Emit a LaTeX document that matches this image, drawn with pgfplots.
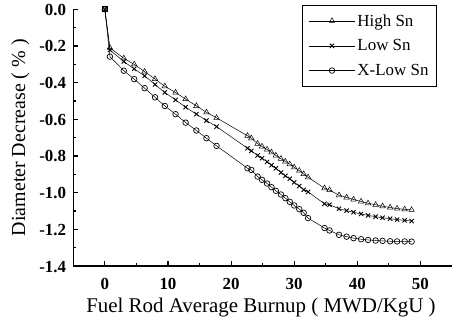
\documentclass[border=0pt]{standalone}
\usepackage{pgfplots}
\pgfplotsset{compat=1.18}
\usetikzlibrary{calc}
\usepackage{fontspec}
\setmainfont{Liberation Serif}
\begin{document}
\begin{tikzpicture}
\begin{axis}[
  name=ax,
  scale only axis, width=378.7bp, height=256.7bp,
  xmin=-5, xmax=55, ymin=-1.4, ymax=0,
  axis x line*=bottom, axis y line*=left,
  axis line style={draw=black, line width=1.4pt},
  tick align=inside, tick style={draw=black, line width=1.1pt},
  major tick length=5bp, minor tick length=3bp,
  xtick={0,10,...,50}, ytick={-1.4,-1.2,-1.0,-0.8,-0.6,-0.4,-0.2,0},
  minor x tick num=1, minor y tick num=1,
  /pgf/number format/assume math mode=true,
  yticklabel style={/pgf/number format/fixed, /pgf/number format/fixed zerofill, /pgf/number format/precision=1,
    anchor=base east, inner sep=0pt, xshift=-7bp, yshift=-6bp},
  xticklabel style={anchor=base, inner sep=0pt, yshift=-23bp},
  tick label style={font=\bfseries\fontsize{17}{17}\selectfont},
  xlabel={Fuel Rod Average Burnup ( MWD/KgU )},
  ylabel={Diameter Decrease ( \% )},
  xlabel style={font=\fontsize{21}{21}\selectfont, at={(axis description cs:0.4957,-0.183)}, anchor=base, inner sep=0pt},
  ylabel style={font=\fontsize{20}{20}\selectfont, at={(axis description cs:-0.14,0.5)}, anchor=center, inner sep=0pt},
  clip=false,
  legend style={at={(0.96,1.017)}, anchor=north east, draw=black, line width=0.7pt,
    font=\fontsize{17}{17}\selectfont, row sep=8bp, inner xsep=6bp, inner ysep=7bp},
  legend cell align=left,
  legend image code/.code={\draw[mark repeat=2,mark phase=2] plot coordinates {(0cm,0cm) (0.82cm,0cm) (1.64cm,0cm)};},
]
\draw[black, line width=1.4pt] (rel axis cs:0,1) -- (rel axis cs:0,0) -- (rel axis cs:1,0);
\addplot[black, line width=0.5pt, mark=triangle, mark size=3.2pt, mark options={solid, fill=white}] coordinates {
(0,0) (0.8,-0.21) (3.0,-0.267) (4.65,-0.30) (6.3,-0.34) (7.95,-0.38) (9.5,-0.42) (11.2,-0.454) (12.8,-0.49) (14.5,-0.527) (16.1,-0.562) (17.7,-0.592)
(22.6,-0.69) (23.2,-0.703) (24.2,-0.733) (24.9,-0.748) (25.7,-0.765) (26.4,-0.78) (27.1,-0.797) (27.9,-0.815) (28.6,-0.83) (29.3,-0.845) (30.0,-0.862) (30.8,-0.88) (31.5,-0.899) (32.2,-0.916)
(34.8,-0.976) (35.6,-0.986) (37.1,-1.014) (38.3,-1.026) (39.4,-1.037) (40.6,-1.048) (41.7,-1.058) (42.9,-1.066) (44.0,-1.074) (45.2,-1.081) (46.3,-1.087) (47.5,-1.091) (48.6,-1.094)
};
\addlegendentry{High Sn}
\addplot[black, line width=0.5pt, mark=x, mark size=3pt, mark options={solid, line width=0.9pt}] coordinates {
(0,0) (0.8,-0.222) (3.0,-0.285) (4.65,-0.325) (6.3,-0.363) (7.95,-0.41) (9.5,-0.454) (11.2,-0.494) (12.8,-0.534) (14.5,-0.572) (16.1,-0.607) (17.7,-0.64)
(22.6,-0.758) (23.2,-0.772) (24.2,-0.797) (24.9,-0.812) (25.7,-0.832) (26.4,-0.85) (27.1,-0.867) (27.9,-0.89) (28.6,-0.908) (29.3,-0.924) (30.0,-0.944) (30.8,-0.964) (31.5,-0.984) (32.2,-0.996)
(34.8,-1.061) (35.6,-1.066) (37.1,-1.088) (38.3,-1.098) (39.4,-1.107) (40.6,-1.116) (41.7,-1.124) (42.9,-1.131) (44.0,-1.137) (45.2,-1.142) (46.3,-1.147) (47.5,-1.151) (48.6,-1.155)
};
\addlegendentry{Low Sn}
\addplot[black, line width=0.5pt, mark=o, mark size=2.8pt, mark options={solid, fill=white, line width=0.7pt}] coordinates {
(0,0) (0.8,-0.258) (3.0,-0.335) (4.65,-0.381) (6.3,-0.43) (7.95,-0.48) (9.5,-0.527) (11.2,-0.572) (12.8,-0.618) (14.5,-0.661) (16.1,-0.703) (17.7,-0.745)
(22.6,-0.867) (23.2,-0.876) (24.2,-0.912) (24.9,-0.93) (25.7,-0.95) (26.4,-0.97) (27.1,-0.99) (27.9,-1.01) (28.6,-1.03) (29.3,-1.05) (30.0,-1.07) (30.8,-1.09) (31.5,-1.11) (32.2,-1.139)
(34.8,-1.193) (35.6,-1.206) (37.1,-1.23) (38.3,-1.24) (39.4,-1.248) (40.6,-1.254) (41.7,-1.258) (42.9,-1.261) (44.0,-1.263) (45.2,-1.265) (46.3,-1.266) (47.5,-1.266) (48.6,-1.267)
};
\addlegendentry{X-Low Sn}
\addplot[black, only marks, mark=square, mark size=2.6pt, mark options={fill=white, line width=0.8pt}, forget plot] coordinates {(0,0)};
\end{axis}
\pgfresetboundingbox
\path ($(ax.south west)+(-73.3bp,-55bp)$) rectangle ($(ax.north east)+(1bp,9.3bp)$);
\end{tikzpicture}
\end{document}
